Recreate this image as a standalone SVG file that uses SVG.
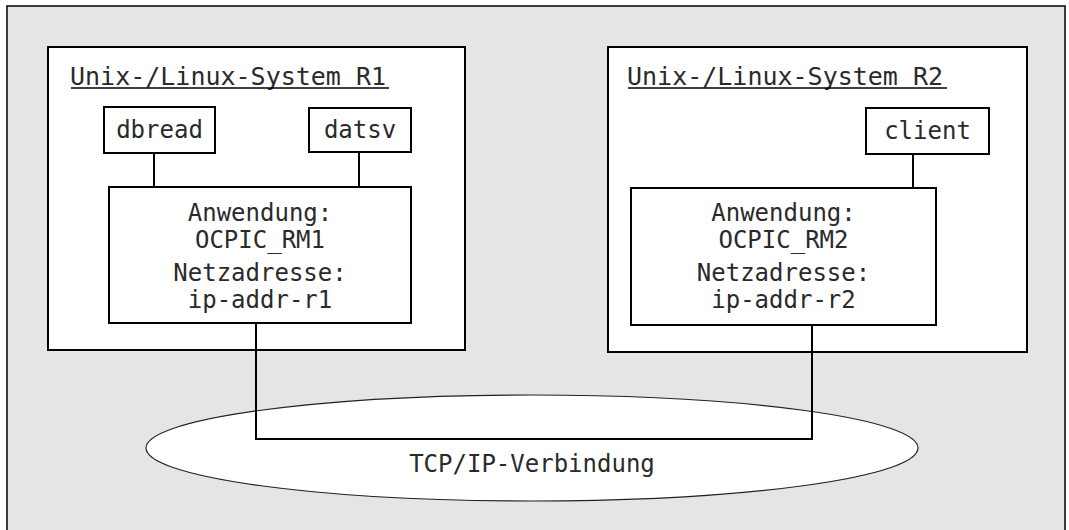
<svg xmlns="http://www.w3.org/2000/svg" width="1069" height="530" viewBox="0 0 1069 530">
<style>
.box{fill:#fff;stroke:#000;stroke-width:2}
.t{font-family:"DejaVu Sans Mono","Liberation Mono",monospace;font-size:24px;fill:#2a2a2a}
.title{font-size:25px}
.c{text-anchor:middle}
.conn{fill:none;stroke:#000;stroke-width:2}
</style>
<rect x="7" y="6" width="1058" height="540" fill="#e5e5e5" stroke="#000" stroke-width="1.5"/>
<g id="sysR1">
<rect class="box" x="48" y="47" width="417" height="303"/>
<text class="t title" x="70" y="85">Unix-/Linux-System R1</text>
<line x1="71" y1="88" x2="389" y2="88" stroke="#000" stroke-width="1.5"/>
</g>
<g id="sysR2">
<rect class="box" x="608" y="47" width="419" height="305"/>
<text class="t title" x="627" y="85">Unix-/Linux-System R2</text>
<line x1="628" y1="88" x2="947" y2="88" stroke="#000" stroke-width="1.5"/>
</g>
<g id="net">
<ellipse cx="532" cy="448" rx="386" ry="53" fill="#fff" stroke="#222" stroke-width="1.2"/>
<text class="t c" x="532" y="472">TCP/IP-Verbindung</text>
</g>
<g id="connectors">
<line class="conn" x1="154" y1="153" x2="154" y2="187"/>
<line class="conn" x1="359" y1="152" x2="359" y2="187"/>
<line class="conn" x1="913" y1="154" x2="913" y2="188"/>
<polyline class="conn" points="256,323 256,439 812,439 812,325"/>
</g>
<g id="dbread">
<rect class="box" x="104" y="107" width="111" height="46"/>
<text class="t c" x="159.5" y="138">dbread</text>
</g>
<g id="datsv">
<rect class="box" x="309" y="108" width="102" height="44"/>
<text class="t c" x="360" y="138">datsv</text>
</g>
<g id="client">
<rect class="box" x="866" y="108" width="123" height="46"/>
<text class="t c" x="927.5" y="139">client</text>
</g>
<g id="appR1">
<rect class="box" x="109" y="187" width="302" height="136"/>
<text class="t c" x="260" y="221">Anwendung:</text>
<text class="t c" x="260" y="248">OCPIC_RM1</text>
<text class="t c" x="260" y="281">Netzadresse:</text>
<text class="t c" x="260" y="308">ip-addr-r1</text>
</g>
<g id="appR2">
<rect class="box" x="631" y="188" width="305" height="137"/>
<text class="t c" x="783.5" y="221">Anwendung:</text>
<text class="t c" x="783.5" y="248">OCPIC_RM2</text>
<text class="t c" x="783.5" y="281">Netzadresse:</text>
<text class="t c" x="783.5" y="308">ip-addr-r2</text>
</g>
</svg>
